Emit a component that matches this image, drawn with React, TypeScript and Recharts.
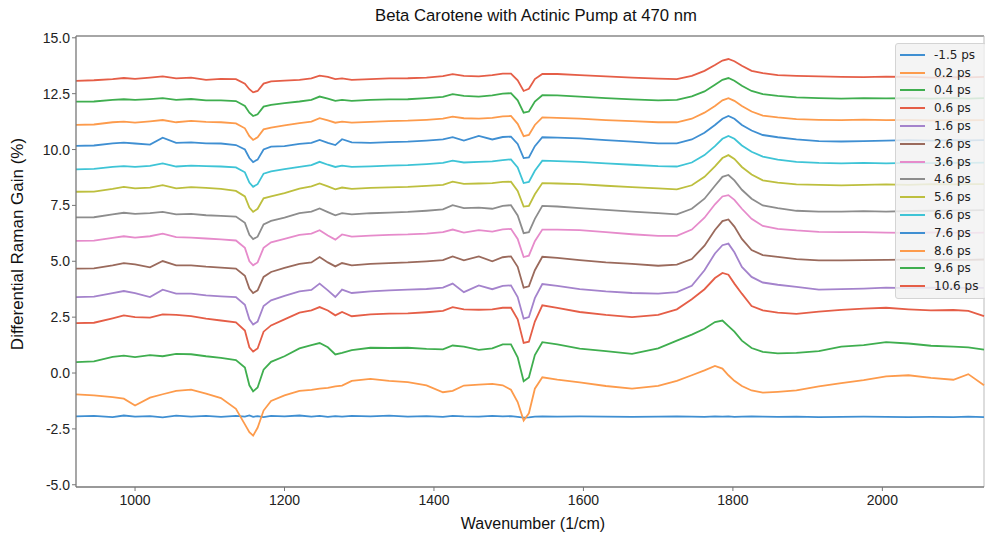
import { LineChart, Line, XAxis, YAxis, ReferenceLine } from "recharts";

// shared wavenumber grid (1/cm)
const wavenumber = [
  921, 945, 970, 985, 1000, 1020, 1037, 1055, 1075, 1095,
  1115, 1135, 1147, 1153, 1158, 1164, 1172, 1182, 1200, 1220,
  1236, 1247, 1258, 1268, 1277, 1290, 1315, 1340, 1365, 1390,
  1412, 1425, 1440, 1460, 1478, 1492, 1503, 1512, 1520, 1527,
  1535, 1545, 1565, 1595, 1630, 1665, 1700, 1725, 1745, 1762,
  1776, 1786, 1794, 1802, 1812, 1825, 1840, 1860, 1885, 1915,
  1945, 1975, 2005, 2035, 2065, 2095, 2115, 2136,
];

const delays = [
  "-1.5 ps", "0.2 ps", "0.4 ps", "0.6 ps", "1.6 ps", "2.6 ps", "3.6 ps",
  "4.6 ps", "5.6 ps", "6.6 ps", "7.6 ps", "8.6 ps", "9.6 ps", "10.6 ps",
];

const colors = [
  "#3f8fd2", "#fd9b4c", "#3fae4f", "#e55e47", "#a483cc", "#9a6a5c", "#e68bcb",
  "#8d8d8d", "#bdbf3e", "#3ec4d6", "#3f8fd2", "#fd9b4c", "#3fae4f", "#e55e47",
];

const gainM1_5 = [
  -1.94, -1.92, -1.97, -1.90, -1.95, -1.93, -1.98, -1.91, -1.95, -1.92,
  -1.96, -1.92, -1.95, -1.90, -1.96, -1.93, -1.97, -1.92, -1.94, -1.90,
  -1.95, -1.92, -1.96, -1.93, -1.95, -1.92, -1.94, -1.91, -1.95, -1.93,
  -1.96, -1.92, -1.94, -1.95, -1.92, -1.94, -1.93, -1.96, -2.00, -1.98,
  -1.95, -1.94, -1.95, -1.94, -1.95, -1.96, -1.95, -1.94, -1.95, -1.96,
  -1.94, -1.95, -1.94, -1.96, -1.95, -1.94, -1.95, -1.96, -1.95, -1.97,
  -1.96, -1.95, -1.96, -1.97, -1.96, -1.97, -1.95, -1.97,
];

const gain0_2 = [
  -0.96, -1.00, -1.08, -1.15, -1.45, -1.10, -0.95, -0.80, -0.74, -0.92,
  -1.12, -1.60, -2.30, -2.65, -2.80, -2.45, -1.68, -1.25, -1.00, -0.80,
  -0.75, -0.70, -0.66, -0.60, -0.56, -0.35, -0.26, -0.35, -0.41, -0.55,
  -0.86, -0.80, -0.56, -0.52, -0.49, -0.55, -0.75, -1.30, -2.13, -1.80,
  -0.70, -0.19, -0.30, -0.42, -0.58, -0.70, -0.58, -0.35, -0.10, 0.12,
  0.32, 0.20, -0.10, -0.35, -0.58, -0.78, -0.88, -0.84, -0.78, -0.60,
  -0.45, -0.32, -0.15, -0.10, -0.22, -0.30, -0.05, -0.55,
];

const gain0_4 = [
  0.49, 0.52, 0.72, 0.78, 0.71, 0.80, 0.75, 0.86, 0.84, 0.75,
  0.68, 0.58, 0.25, -0.55, -0.82, -0.65, 0.15, 0.50, 0.75, 1.10,
  1.25, 1.34, 1.15, 0.83, 0.90, 1.02, 1.13, 1.12, 1.13, 1.08,
  1.06, 1.23, 1.18, 1.04, 1.10, 1.28, 1.28, 0.70, -0.37, -0.20,
  0.80, 1.38, 1.28, 1.09, 0.98, 0.86, 1.10, 1.45, 1.72, 1.98,
  2.28, 2.35, 2.10, 1.85, 1.45, 1.12, 0.95, 0.88, 0.90, 0.98,
  1.18, 1.25, 1.38, 1.32, 1.22, 1.18, 1.15, 1.05,
];

const gain0_6 = [
  2.23, 2.25, 2.45, 2.58, 2.50, 2.48, 2.62, 2.60, 2.55, 2.43,
  2.35, 2.27, 1.90, 1.15, 0.96, 1.10, 1.85, 2.13, 2.40, 2.70,
  2.80, 2.95, 2.80, 2.58, 2.73, 2.54, 2.62, 2.66, 2.67, 2.72,
  2.78, 2.95, 2.85, 2.83, 2.85, 2.92, 2.92, 2.40, 1.35, 1.40,
  2.30, 3.03, 2.92, 2.73, 2.60, 2.50, 2.60, 2.85, 3.30, 3.75,
  4.25, 4.48, 4.40, 4.00, 3.55, 3.00, 2.80, 2.70, 2.65, 2.75,
  2.83, 2.88, 2.92, 2.85, 2.80, 2.82, 2.78, 2.55,
];

const gain1_6 = [
  3.40, 3.42, 3.58, 3.67, 3.58, 3.40, 3.73, 3.55, 3.55, 3.47,
  3.43, 3.40, 3.05, 2.40, 2.17, 2.30, 3.00, 3.25, 3.45, 3.65,
  3.72, 4.00, 3.70, 3.40, 3.73, 3.58, 3.65, 3.70, 3.73, 3.76,
  3.82, 4.00, 3.62, 3.92, 3.75, 3.90, 3.92, 3.40, 2.43, 2.50,
  3.35, 3.98, 3.90, 3.75, 3.65, 3.58, 3.55, 3.62, 3.90, 4.60,
  5.35, 5.72, 5.79, 5.40, 4.75, 4.30, 4.05, 3.95, 3.85, 3.73,
  3.75, 3.78, 3.82, 3.80, 3.82, 3.80, 3.82, 3.81,
];

const gain2_6 = [
  4.67, 4.68, 4.82, 4.92, 4.86, 4.73, 5.01, 4.82, 4.82, 4.76,
  4.72, 4.67, 4.35, 3.78, 3.58, 3.70, 4.30, 4.52, 4.70, 4.88,
  4.95, 5.19, 4.95, 4.77, 4.92, 4.82, 4.88, 4.92, 4.95, 5.00,
  5.05, 5.22, 5.04, 5.22, 5.00, 5.18, 5.22, 4.75, 3.82, 3.88,
  4.60, 5.20, 5.15, 5.05, 4.95, 4.88, 4.80, 4.85, 5.10, 5.70,
  6.40, 6.80, 6.87, 6.55, 6.00, 5.50, 5.28, 5.20, 5.10, 5.04,
  5.04, 5.05, 5.06, 5.07, 5.06, 5.07, 5.06, 5.08,
];

const gain3_6 = [
  5.91, 5.92, 6.05, 6.12, 6.06, 6.12, 6.24, 6.08, 6.06, 6.02,
  5.98, 5.93, 5.60, 5.00, 4.82, 4.95, 5.60, 5.85, 6.00, 6.18,
  6.24, 6.39, 6.15, 5.97, 6.20, 6.10, 6.15, 6.18, 6.20, 6.24,
  6.30, 6.42, 6.28, 6.39, 6.33, 6.43, 6.45, 6.00, 5.19, 5.25,
  5.90, 6.42, 6.42, 6.39, 6.30, 6.21, 6.14, 6.14, 6.42, 6.95,
  7.55, 7.90, 7.96, 7.75, 7.35, 6.90, 6.58, 6.45, 6.38, 6.32,
  6.30, 6.30, 6.28, 6.27, 6.29, 6.28, 6.27, 6.28,
];

const gain4_6 = [
  6.96, 6.97, 7.10, 7.17, 7.12, 7.15, 7.21, 7.10, 7.12, 7.06,
  7.03, 7.00, 6.72, 6.18, 5.99, 6.10, 6.65, 6.81, 6.95, 7.15,
  7.22, 7.36, 7.20, 7.06, 7.15, 7.10, 7.15, 7.18, 7.21, 7.26,
  7.32, 7.51, 7.38, 7.40, 7.35, 7.48, 7.51, 7.05, 6.26, 6.30,
  6.90, 7.48, 7.45, 7.38, 7.30, 7.22, 7.15, 7.10, 7.35, 7.80,
  8.38, 8.78, 8.86, 8.62, 8.20, 7.80, 7.50, 7.38, 7.26, 7.22,
  7.22, 7.24, 7.22, 7.25, 7.26, 7.28, 7.28, 7.29,
];

const gain5_6 = [
  8.11, 8.12, 8.24, 8.33, 8.26, 8.30, 8.41, 8.26, 8.32, 8.28,
  8.24, 8.15, 7.90, 7.40, 7.21, 7.35, 7.82, 7.90, 8.05, 8.25,
  8.35, 8.48, 8.35, 8.22, 8.30, 8.24, 8.28, 8.31, 8.33, 8.37,
  8.42, 8.56, 8.46, 8.48, 8.50, 8.55, 8.56, 8.15, 7.45, 7.48,
  8.00, 8.50, 8.48, 8.45, 8.38, 8.32, 8.26, 8.22, 8.40, 8.78,
  9.25, 9.62, 9.75, 9.58, 9.22, 8.88, 8.62, 8.52, 8.44, 8.42,
  8.40, 8.42, 8.44, 8.42, 8.45, 8.44, 8.45, 8.45,
];

const gain6_6 = [
  9.11, 9.13, 9.22, 9.26, 9.22, 9.27, 9.38, 9.24, 9.28, 9.26,
  9.24, 9.20, 8.98, 8.52, 8.33, 8.45, 8.92, 9.02, 9.12, 9.22,
  9.30, 9.45, 9.32, 9.22, 9.28, 9.22, 9.25, 9.28, 9.30, 9.35,
  9.40, 9.50, 9.42, 9.45, 9.47, 9.53, 9.56, 9.20, 8.50, 8.55,
  9.05, 9.50, 9.48, 9.45, 9.38, 9.32, 9.26, 9.24, 9.42, 9.75,
  10.15, 10.48, 10.61, 10.48, 10.18, 9.90, 9.68, 9.55, 9.45, 9.40,
  9.38, 9.40, 9.38, 9.40, 9.39, 9.41, 9.40, 9.41,
];

const gain7_6 = [
  10.16, 10.18, 10.28, 10.31, 10.27, 10.22, 10.53, 10.30, 10.32, 10.28,
  10.27, 10.20, 10.00, 9.62, 9.44, 9.55, 10.00, 10.13, 10.15, 10.25,
  10.30, 10.43, 10.30, 10.20, 10.46, 10.32, 10.30, 10.33, 10.35, 10.40,
  10.45, 10.55, 10.40, 10.61, 10.45, 10.56, 10.58, 10.25, 9.62, 9.65,
  10.15, 10.55, 10.53, 10.50, 10.42, 10.35, 10.28, 10.28, 10.45, 10.75,
  11.10, 11.38, 11.50, 11.38, 11.10, 10.85, 10.65, 10.55, 10.45, 10.38,
  10.36, 10.38, 10.40, 10.42, 10.40, 10.42, 10.41, 10.42,
];

const gain8_6 = [
  11.10, 11.12, 11.22, 11.25, 11.20, 11.26, 11.32, 11.22, 11.28, 11.24,
  11.22, 11.17, 10.95, 10.60, 10.43, 10.55, 10.90, 10.98, 11.08, 11.18,
  11.25, 11.40, 11.30, 11.20, 11.25, 11.20, 11.24, 11.27, 11.29, 11.33,
  11.38, 11.47, 11.40, 11.38, 11.42, 11.48, 11.50, 11.15, 10.60, 10.65,
  11.10, 11.44, 11.42, 11.38, 11.32, 11.27, 11.22, 11.22, 11.38, 11.65,
  11.95, 12.20, 12.30, 12.18, 11.95, 11.70, 11.52, 11.44, 11.36, 11.33,
  11.32, 11.34, 11.32, 11.33, 11.30, 11.32, 11.31, 11.32,
];

const gain9_6 = [
  12.14, 12.15, 12.22, 12.25, 12.22, 12.26, 12.30, 12.22, 12.26, 12.20,
  12.20, 12.17, 11.95, 11.65, 11.50, 11.58, 11.92, 12.00, 12.08, 12.15,
  12.22, 12.37, 12.28, 12.18, 12.22, 12.18, 12.22, 12.24, 12.25, 12.30,
  12.36, 12.48, 12.40, 12.37, 12.42, 12.50, 12.52, 12.20, 11.65, 11.70,
  12.15, 12.43, 12.42, 12.37, 12.30, 12.24, 12.20, 12.22, 12.38, 12.60,
  12.90, 13.12, 13.20, 13.08, 12.85, 12.62, 12.48, 12.40, 12.33, 12.30,
  12.28, 12.30, 12.29, 12.30, 12.28, 12.30, 12.28, 12.30,
];

const gain10_6 = [
  13.07, 13.10, 13.15, 13.20, 13.16, 13.22, 13.27, 13.18, 13.22, 13.12,
  13.16, 13.15, 12.95, 12.70, 12.56, 12.62, 12.95, 13.05, 13.08, 13.12,
  13.18, 13.31, 13.25, 13.15, 13.18, 13.12, 13.15, 13.18, 13.19, 13.22,
  13.28, 13.37, 13.30, 13.27, 13.33, 13.40, 13.40, 13.10, 12.62, 12.72,
  13.15, 13.38, 13.38, 13.33, 13.27, 13.22, 13.17, 13.15, 13.30, 13.52,
  13.78, 13.98, 14.05, 13.95, 13.75, 13.52, 13.42, 13.33, 13.30, 13.27,
  13.25, 13.24, 13.26, 13.25, 13.22, 13.24, 13.23, 13.25,
];

const yTicks = [-5, -2.5, 0, 2.5, 5, 7.5, 10, 12.5, 15];
const xTicks = [1000, 1200, 1400, 1600, 1800, 2000];

const series = [
  gainM1_5, gain0_2, gain0_4, gain0_6, gain1_6, gain2_6, gain3_6,
  gain4_6, gain5_6, gain6_6, gain7_6, gain8_6, gain9_6, gain10_6,
];

const data = wavenumber.map((x, i) => {
  const row: Record<string, number> = { x };
  series.forEach((s, k) => {
    row["s" + k] = s[i];
  });
  return row;
});

const tickStyle = { fontFamily: "Liberation Sans, Arial, sans-serif", fontSize: 14, fill: "#222" };
const labelFont = "Liberation Sans, Arial, sans-serif";

function LegendBox() {
  return (
    <div
      style={{
        position: "absolute",
        left: 895,
        top: 43,
        width: 92,
        boxSizing: "border-box",
        background: "rgba(242,242,242,0.85)",
        border: "1px solid #d4d4d4",
        borderRadius: 3,
        padding: "2px 0 3px 4px",
        fontFamily: "DejaVu Sans, sans-serif",
        fontSize: 12,
        color: "#222",
      }}
    >
      {delays.map((d, i) => (
        <div key={d} style={{ display: "flex", alignItems: "center", height: 17.8 }}>
          <span style={{ display: "inline-block", width: 25, height: 2, background: colors[i], marginRight: 9 }} />
          <span>{d}</span>
        </div>
      ))}
    </div>
  );
}

export default function App() {
  return (
    <div style={{ position: "absolute", left: 0, top: 0, width: 985, height: 539, background: "#fff" }}>
      <LineChart width={985} height={539} data={data} margin={{ top: 36, right: 1, bottom: 0, left: 0 }}>
        <XAxis
          dataKey="x"
          type="number"
          domain={[921, 2136]}
          ticks={xTicks}
          height={52}
          tick={tickStyle}
          tickSize={4}
          tickMargin={4}
          stroke="#777"
          axisLine={{ stroke: "#777", strokeWidth: 1.3 }}
        />
        <YAxis
          type="number"
          domain={[-5.1, 15.08]}
          ticks={yTicks}
          width={76}
          tick={tickStyle}
          tickSize={4}
          tickMargin={2}
          tickFormatter={(v: number) => v.toFixed(1)}
          stroke="#777"
          axisLine={{ stroke: "#777", strokeWidth: 1.3 }}
        />
        <ReferenceLine y={15.08} stroke="#888" strokeWidth={1.3} />
        <ReferenceLine x={2136} stroke="#bbb" strokeWidth={1} />
        {delays.map((d, i) => (
          <Line
            key={d}
            dataKey={"s" + i}
            name={d}
            type="linear"
            stroke={colors[i]}
            strokeWidth={1.8}
            dot={false}
            isAnimationActive={false}
          />
        ))}
      </LineChart>
      <LegendBox />
      <div
        style={{
          position: "absolute",
          left: 536,
          top: 16,
          transform: "translate(-50%, -50%)",
          whiteSpace: "nowrap",
          fontFamily: labelFont,
          fontSize: 16.7,
          color: "#111",
        }}
      >
        Beta Carotene with Actinic Pump at 470 nm
      </div>
      <div
        style={{
          position: "absolute",
          left: 533,
          top: 524,
          transform: "translate(-50%, -50%)",
          whiteSpace: "nowrap",
          fontFamily: labelFont,
          fontSize: 16,
          color: "#111",
        }}
      >
        Wavenumber (1/cm)
      </div>
      <div
        style={{
          position: "absolute",
          left: 18,
          top: 244,
          transform: "translate(-50%, -50%) rotate(-90deg)",
          whiteSpace: "nowrap",
          fontFamily: labelFont,
          fontSize: 17,
          color: "#111",
        }}
      >
        Differential Raman Gain (%)
      </div>
    </div>
  );
}
